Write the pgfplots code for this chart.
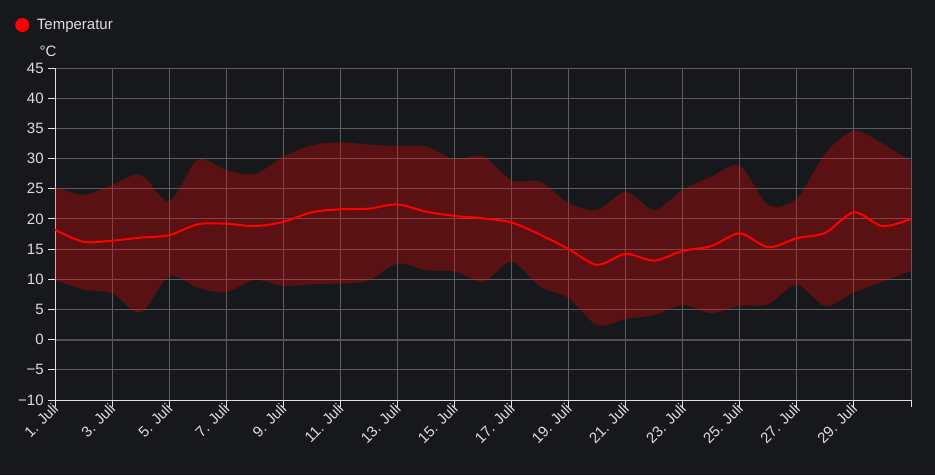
\documentclass[border=0pt]{standalone}
\usepackage{pgfplots}
\pgfplotsset{compat=1.18}
\usepackage{pgfplotstable}
\usepgfplotslibrary{fillbetween}
\usepackage{fontspec}
\setmainfont{Liberation Sans}
\definecolor{bgc}{RGB}{23,24,27}
\definecolor{txt}{RGB}{222,222,222}
\definecolor{axc}{RGB}{225,225,225}
\definecolor{gridc}{RGB}{92,92,95}
\definecolor{zeroc}{RGB}{80,80,83}
\pagecolor{bgc}
\pgfplotstableread{
day mean low high
1  18.2  9.9 25.3
2  16.2  8.3 24.0
3  16.4  7.7 25.6
4  16.9  4.5 27.3
5  17.3 10.5 22.9
6  19.1  8.6 29.8
7  19.2  7.9 28.1
8  18.8  9.9 27.4
9  19.5  8.9 30.3
10 21.1  9.2 32.2
11 21.6  9.3 32.7
12 21.7  9.8 32.3
13 22.4 12.6 32.1
14 21.2 11.5 32.0
15 20.5 11.3 29.9
16 20.1  9.6 30.4
17 19.4 12.9 26.4
18 17.4  8.8 26.2
19 15.0  6.9 22.6
20 12.4  2.4 21.5
21 14.2  3.4 24.5
22 13.1  4.1 21.5
23 14.7  5.7 24.8
24 15.5  4.4 27.0
25 17.6  5.6 28.8
26 15.3  5.9 22.3
27 16.8  9.1 23.4
28 17.7  5.6 30.9
29 21.1  7.8 34.6
30 18.8  9.6 32.5
31 20.0 11.4 29.5
}\temps
\begin{document}
\begin{tikzpicture}
\path (0,0) rectangle (701.25pt,356.25pt);
\begin{axis}[
  at={(41.25pt,56.25pt)}, anchor=south west,
  scale only axis, width=642pt, height=249pt,
  xmin=1, xmax=31, ymin=-10, ymax=45,
  axis lines*=left,
  axis line style={axc, line width=0.75pt},
  xtick={1,3,...,31},
  xticklabels={1. Juli,3. Juli,5. Juli,7. Juli,9. Juli,11. Juli,13. Juli,15. Juli,17. Juli,19. Juli,21. Juli,23. Juli,25. Juli,27. Juli,29. Juli,{}},
  ytick={-10,-5,...,45},
  yticklabels={−10,−5,0,5,10,15,20,25,30,35,40,45},
  tick align=outside, major tick length=5pt,
  tick style={axc, line width=0.75pt},
  grid=major,
  grid style={gridc, line width=0.75pt},
  extra y ticks={0}, extra y tick labels={},
  extra y tick style={grid style={zeroc, line width=1.6pt}, tick style={axc}},
  ticklabel style={font=\fontsize{11.25}{13}\selectfont, text=txt},
  xticklabel style={rotate=45, anchor=east, xshift=4pt, yshift=0pt},
  legend style={at={(0,1)}, anchor=west, xshift=-30pt, yshift=32.25pt,
    draw=none, fill=none, text=txt, font=\fontsize{11.25}{13}\selectfont, inner sep=0pt},
  legend image code/.code={\fill[red] (0pt,0pt) circle (4.5pt); \path (8.25pt,0pt);},
]
\addplot[draw=none, smooth, name path=up, forget plot] table[x=day, y=high] {\temps};
\addplot[draw=none, smooth, name path=lo, forget plot] table[x=day, y=low] {\temps};
\addplot[fill=red, fill opacity=0.29, draw=none, forget plot] fill between[of=up and lo];
\addplot[red, line width=1.5pt, smooth, no markers] table[x=day, y=mean] {\temps};
\addlegendentry{Temperatur}
\end{axis}
\node[text=txt, font=\fontsize{11.25}{13}\selectfont] at (36pt,318pt) {°C};
\pgfresetboundingbox
\path[use as bounding box] (0,0) rectangle (701.25pt,356.25pt);
\end{tikzpicture}
\end{document}
